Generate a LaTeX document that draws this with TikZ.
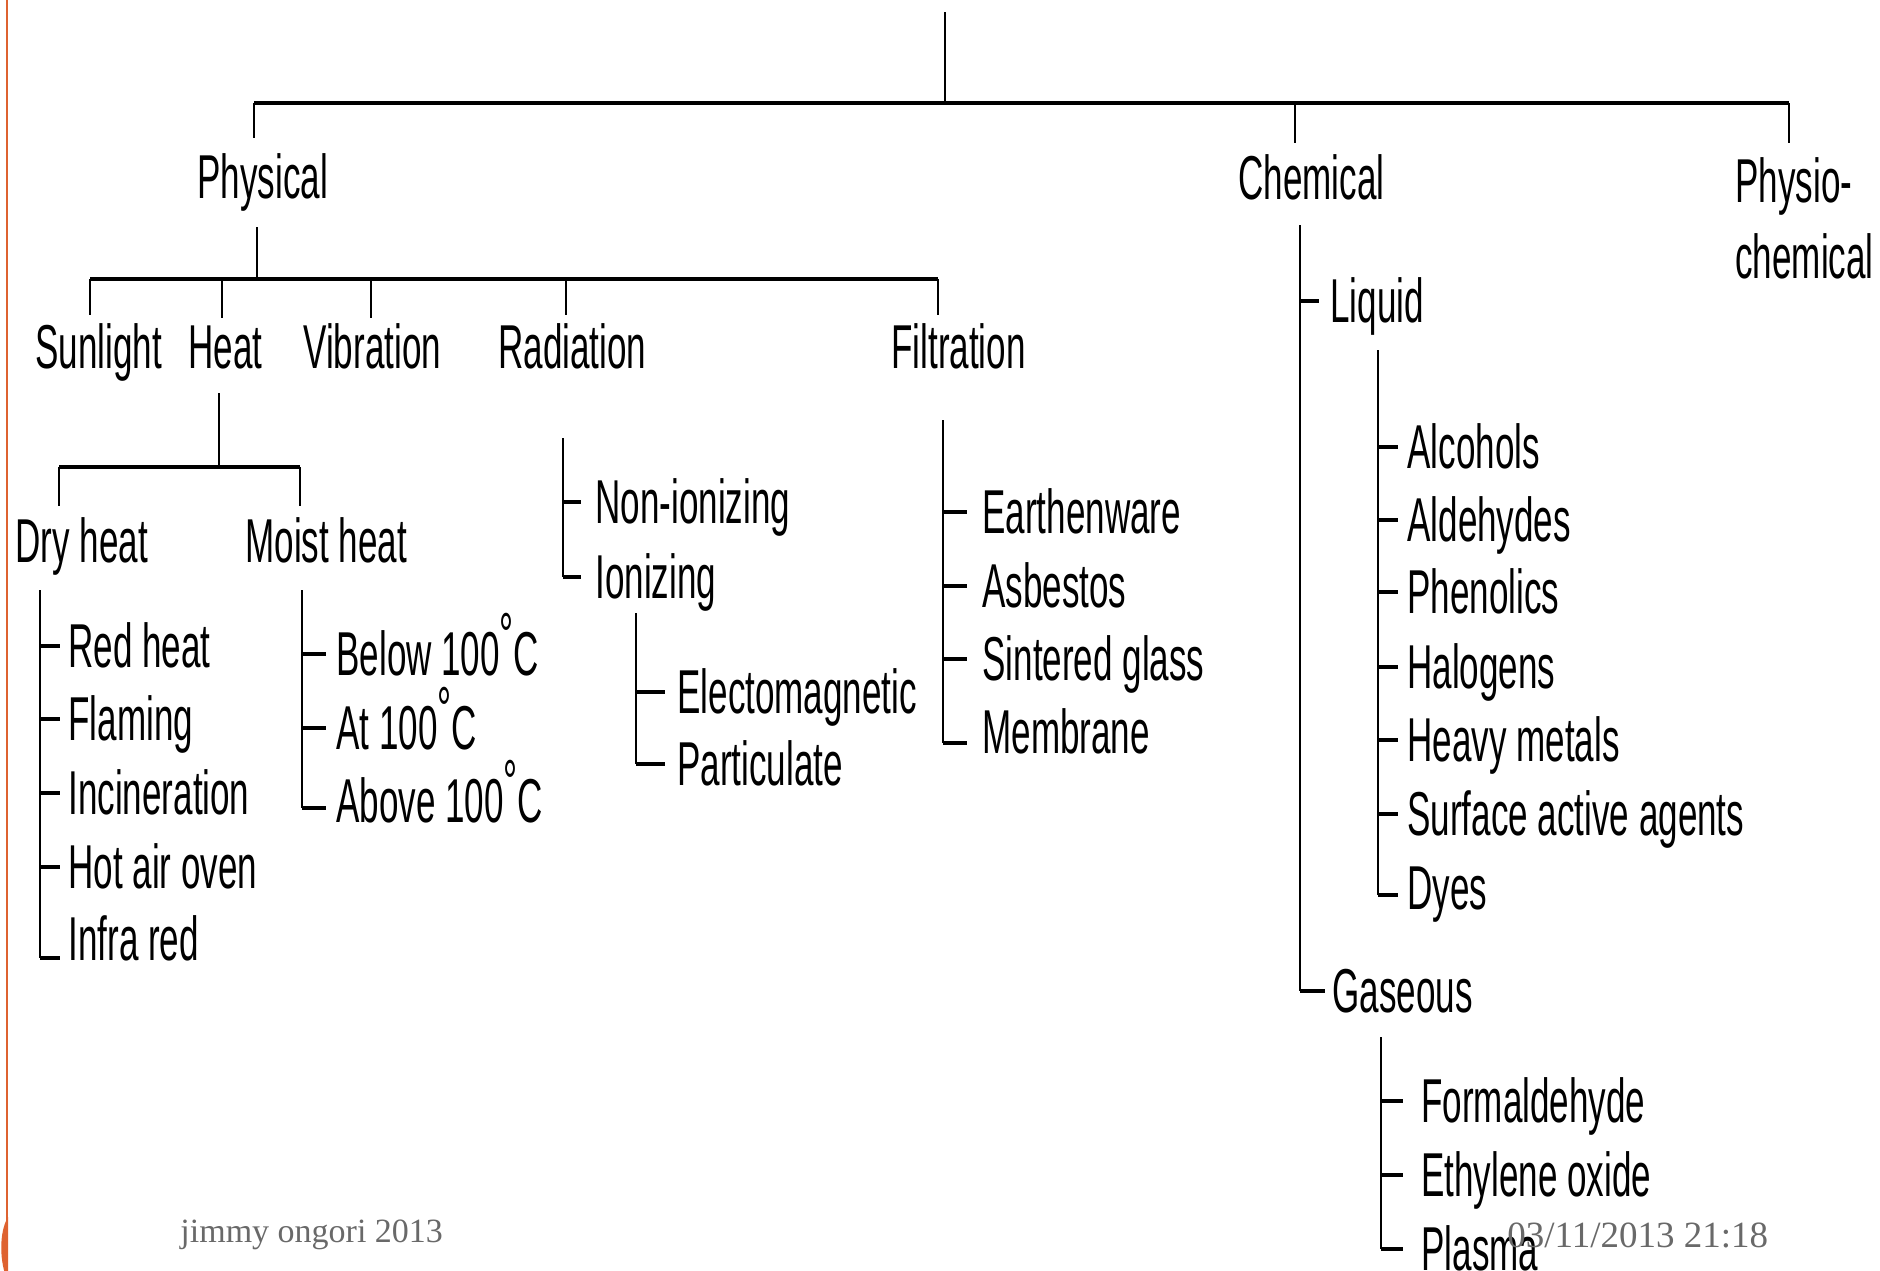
\documentclass[tikz,border=0pt]{standalone}
\usepackage{fontspec}
\setmainfont{Liberation Sans}[FakeStretch=0.565]
\newfontfamily\footfont{Liberation Serif}
\usetikzlibrary{calc}
\definecolor{slideorange}{RGB}{222,98,48}
\definecolor{footgray}{RGB}{105,105,105}
\newcommand{\degC}{\raisebox{.3em}{°}C}
\begin{document}
\begin{tikzpicture}[x=0.5pt,y=-0.5pt,
  lbl/.style={anchor=base west, inner sep=0pt, text height=21pt, text depth=0pt,
              font=\fontsize{31}{31}\selectfont},
  vl/.style={line width=1.3pt},
  hl/.style={line width=2.1pt},
  tk/.style={line width=1.6pt},
  foot/.style={anchor=base west, inner sep=0pt, text=footgray}]
\useasboundingbox (0,0) rectangle (1880,1270);

% slide decoration
\draw[slideorange, line width=1pt] (7,0) -- (7,1270);
\fill[slideorange] (8,1217) .. controls (-1,1232) and (-1,1262) .. (8,1282) -- cycle;

% ---------- labels ----------
\node[lbl] (phys)   at (197,198)  {Physical};
\node[lbl] (chem)   at (1238,199) {Chemical};
\node[lbl] (physio) at (1735,202) {Physio-};
\node[lbl] (physiob) at (1735,278) {chemical};

\node[lbl] (sun)  at (35,368)  {Sunlight};
\node[lbl] (heat) at (188,368) {Heat};
\node[lbl] (vib)  at (303,368) {Vibration};
\node[lbl] (rad)  at (498,368) {Radiation};
\node[lbl] (filt) at (891,368) {Filtration};

\node[lbl] (dry)   at (15,562)  {Dry heat};
\node[lbl] (moist) at (245,562) {Moist heat};

\node[lbl] (red)   at (68,667) {Red heat};
\node[lbl] (flam)  at (68,740) {Flaming};
\node[lbl] (inc)   at (68,814) {Incineration};
\node[lbl] (hot)   at (68,888) {Hot air oven};
\node[lbl] (infra) at (68,960) {Infra red};

\node[lbl] (below) at (336,675) {Below 100\degC};
\node[lbl] (at100) at (336,749) {At 100\degC};
\node[lbl] (above) at (336,822) {Above 100\degC};

\node[lbl] (nonion) at (595,523) {Non-ionizing};
\node[lbl] (ion)    at (595,598) {Ionizing};
\node[lbl] (em)     at (677,713) {Electomagnetic};
\node[lbl] (part)   at (677,785) {Particulate};

\node[lbl] (earth) at (982,533) {Earthenware};
\node[lbl] (asb)   at (982,607) {Asbestos};
\node[lbl] (sint)  at (982,680) {Sintered glass};
\node[lbl] (memb)  at (982,753) {Membrane};

\node[lbl] (liq) at (1330,322)  {Liquid};
\node[lbl] (gas) at (1332,1012) {Gaseous};

\node[lbl] (alc)   at (1407,468) {Alcohols};
\node[lbl] (ald)   at (1407,541) {Aldehydes};
\node[lbl] (phen)  at (1407,613) {Phenolics};
\node[lbl] (hal)   at (1407,688) {Halogens};
\node[lbl] (heavy) at (1407,761) {Heavy metals};
\node[lbl] (surf)  at (1407,835) {Surface active agents};
\node[lbl] (dyes)  at (1407,909) {Dyes};

\node[lbl] (form) at (1421,1122) {Formaldehyde};
\node[lbl] (eth)  at (1421,1196) {Ethylene oxide};
\node[lbl] (plas) at (1421,1270) {Plasma};

% ---------- junction coordinates ----------
\coordinate (roottop) at (945,12);
\coordinate (rootj)   at (945,103);
\coordinate (barL)    at (254,103);
\coordinate (barR)    at (1789,103);
\coordinate (physd)   at (254,138);
\coordinate (chemd)   at (1295,143);
\coordinate (physiod) at (1789,143);

\coordinate (physv)  at (257,227);
\coordinate (physj)  at (257,279);
\coordinate (pbarL)  at (90,279);
\coordinate (pbarR)  at (938,279);
\coordinate (sund)   at (90,315);
\coordinate (heatd)  at (222,318);
\coordinate (vibd)   at (371,318);
\coordinate (radd)   at (566,315);
\coordinate (filtd)  at (938,315);

\coordinate (heatv)  at (219,393);
\coordinate (heatj)  at (219,467);
\coordinate (hbarL)  at (59,467);
\coordinate (hbarR)  at (300,467);
\coordinate (dryd)   at (59,506);
\coordinate (moistd) at (300,506);

\coordinate (dryv)   at (40,590);
\coordinate (moistv) at (302,590);
\coordinate (radv)   at (563,438);
\coordinate (ionv)   at (636,613);
\coordinate (filtv)  at (943,420);
\coordinate (chemv)  at (1300,225);
\coordinate (liqv)   at (1378,350);
\coordinate (gasv)   at (1381,1037);

% ---------- top level ----------
\draw[vl] (roottop) -- (rootj);
\draw[hl] (barL) -- (barR);
\draw[vl] (barL) -- (physd);
\draw[vl] (chemd |- rootj) -- (chemd);
\draw[vl] (barR) -- (physiod);

% ---------- physical ----------
\draw[vl] (physv) -- (physj);
\draw[hl] (pbarL) -- (pbarR);
\foreach \d in {sund,heatd,vibd,radd,filtd} \draw[vl] (\d |- pbarL) -- (\d);

% heat
\draw[vl] (heatv) -- (heatj);
\draw[hl] (hbarL) -- (hbarR);
\draw[vl] (hbarL) -- (dryd);
\draw[vl] (hbarR) -- (moistd);

% dry heat list
\draw[vl] (dryv) -- ($(dryv |- infra.west)+(0,19)$);
\foreach \n in {red,flam,inc,hot} \draw[tk] (dryv |- \n.west) -- ++(20,0);
\draw[tk] ($(dryv |- infra.west)+(0,19)$) -- ++(20,0);

% moist heat list
\draw[vl] (moistv) -- ($(moistv |- above.west)+(0,7)$);
\foreach \n in {below,at100} \draw[tk] (moistv |- \n.west) -- ++(24,0);
\draw[tk] ($(moistv |- above.west)+(0,7)$) -- ++(24,0);

% radiation list
\draw[vl] (radv) -- (radv |- ion.west);
\draw[tk] (radv |- nonion.west) -- ++(18,0);
\draw[tk] (radv |- ion.west) -- ++(18,0);

% ionizing list
\draw[vl] (ionv) -- (ionv |- part.west);
\draw[tk] (ionv |- em.west) -- ++(29,0);
\draw[tk] (ionv |- part.west) -- ++(29,0);

% filtration list
\draw[vl] (filtv) -- ($(filtv |- memb.west)+(0,11)$);
\foreach \n in {earth,asb,sint} \draw[tk] (filtv |- \n.west) -- ++(24,0);
\draw[tk] ($(filtv |- memb.west)+(0,11)$) -- ++(24,0);

% ---------- chemical ----------
\draw[vl] (chemv) -- (chemv |- gas.west);
\draw[tk] (chemv |- liq.west) -- ++(19,0);
\draw[tk] (chemv |- gas.west) -- ++(25,0);

% liquid list
\draw[vl] (liqv) -- ($(liqv |- dyes.west)+(0,7)$);
\foreach \n in {alc,ald,phen,hal,heavy,surf} \draw[tk] (liqv |- \n.west) -- ++(20,0);
\draw[tk] ($(liqv |- dyes.west)+(0,7)$) -- ++(20,0);

% gaseous list
\draw[vl] (gasv) -- (gasv |- plas.west);
\foreach \n in {form,eth} \draw[tk] (gasv |- \n.west) -- ++(22,0);
\draw[tk] (gasv |- plas.west) -- ++(22,0);

% ---------- footer ----------
\node[foot, font=\footfont\fontsize{17}{17}\selectfont] (author) at (180,1242) {jimmy ongori 2013};
\node[foot, font=\footfont\fontsize{18.5}{18.5}\selectfont] (date) at (1507,1247) {03/11/2013 21:18};
\end{tikzpicture}
\end{document}
